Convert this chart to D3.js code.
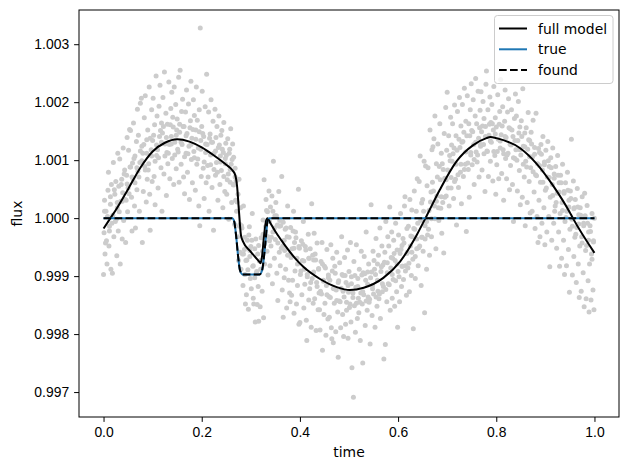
<!DOCTYPE html>
<html>
<head>
<meta charset="utf-8">
<script src="https://cdn.jsdelivr.net/npm/d3@7.9.0/dist/d3.min.js"></script>
<style>
  body { margin: 0; background: #fff; }
  svg { display: block; font-family: "DejaVu Sans", sans-serif; }
  .tick text { font-size: 13.9px; fill: #000; }
  .tick line, .domain { stroke: #000; }
</style>
</head>
<body>
<svg id="chart" width="630" height="470"></svg>
<script>
const obsPoints = [
  [0.000,0.99903],[0.001,0.99975],[0.002,1.00031],[0.003,0.99938],[0.005,1.00012],[0.006,0.99961],[0.007,0.99921],[0.009,1.00048],
  [0.010,1.00079],[0.011,0.99952],[0.012,0.99986],[0.014,1.00024],[0.015,0.99912],[0.016,1.00058],[0.018,0.99905],[0.019,1.00005],
  [0.020,1.00096],[0.021,0.99968],[0.023,1.00041],[0.024,0.99994],[0.025,1.00063],[0.027,0.99935],[0.028,1.00018],[0.029,1.00112],
  [0.030,0.99978],[0.031,1.00055],[0.033,1.00102],[0.034,0.99921],[0.035,1.00029],[0.037,1.00067],[0.038,0.99964],[0.039,1.00044],
  [0.040,1.00121],[0.041,0.99996],[0.043,1.00083],[0.044,1.00032],[0.045,0.99958],[0.047,1.00074],[0.048,1.00139],[0.049,1.00011],
  [0.050,1.00052],[0.051,1.00117],[0.053,1.00153],[0.054,1.00088],[0.055,1.00151],[0.057,1.00036],[0.058,0.99978],[0.059,1.00095],
  [0.060,1.00068],[0.061,1.00164],[0.063,1.00021],[0.064,1.00107],[0.065,0.99983],[0.067,1.00132],[0.068,1.00049],[0.069,1.00188],
  [0.070,1.00081],[0.071,1.00143],[0.073,1.00012],[0.074,1.00096],[0.075,1.00198],[0.077,1.00207],[0.078,1.00124],[0.079,0.99958],
  [0.080,1.00112],[0.081,1.00046],[0.083,1.00173],[0.084,1.00089],[0.085,1.00211],[0.087,1.00028],[0.088,1.00135],[0.089,1.00067],
  [0.090,1.00152],[0.091,1.00083],[0.093,1.00226],[0.094,1.00041],[0.095,0.99979],[0.097,1.00118],[0.098,1.00187],[0.099,1.00063],
  [0.100,1.00134],[0.101,1.00207],[0.103,1.00072],[0.104,1.00161],[0.105,1.00023],[0.107,1.00245],[0.108,1.00108],[0.109,1.00176],
  [0.110,1.00118],[0.111,1.00052],[0.113,1.00193],[0.114,1.00141],[0.115,1.00229],[0.117,1.00087],[0.118,1.00164],[0.119,1.00012],
  [0.120,1.00147],[0.121,1.00208],[0.123,1.00076],[0.124,1.00252],[0.125,1.00128],[0.127,1.00181],[0.128,1.00039],[0.129,1.00113],
  [0.130,1.00162],[0.131,1.00094],[0.133,1.00235],[0.134,1.00127],[0.135,1.00068],[0.137,1.00189],[0.138,1.00141],[0.139,1.00217],
  [0.140,1.00103],[0.141,1.00174],[0.143,1.00058],[0.144,1.00226],[0.145,1.00131],[0.147,1.00196],[0.148,1.00085],[0.149,1.00152],
  [0.150,1.00171],[0.151,1.00119],[0.153,1.00243],[0.154,1.00062],[0.155,1.00148],[0.156,1.00255],[0.158,1.00093],[0.159,1.00184],
  [0.160,1.00127],[0.161,1.00205],[0.163,1.00071],[0.164,1.00158],[0.165,1.00042],[0.167,1.00183],[0.168,1.00112],[0.169,1.00221],
  [0.170,1.00146],[0.171,1.00079],[0.173,1.00197],[0.174,1.00124],[0.175,1.00032],[0.177,1.00168],[0.178,1.00236],[0.179,1.00101],
  [0.180,1.00138],[0.181,1.00061],[0.183,1.00204],[0.184,1.00115],[0.185,1.00177],[0.187,1.00048],[0.188,1.00152],[0.189,1.00226],
  [0.190,1.00093],[0.191,1.00169],[0.193,1.00121],[0.194,1.00021],[0.195,1.00187],[0.196,0.99987],[0.197,1.00328],[0.198,1.00134],[0.199,1.00072],
  [0.200,1.00158],[0.201,1.00219],[0.203,1.00086],[0.204,1.00141],[0.205,1.00034],[0.207,1.00192],[0.208,1.00113],[0.209,1.00061],
  [0.210,1.00248],[0.211,1.00127],[0.213,1.00071],[0.214,1.00183],[0.215,1.00012],[0.217,1.00145],[0.218,1.00092],[0.219,1.00204],
  [0.220,1.00131],[0.221,1.00053],[0.223,1.00167],[0.224,0.99979],[0.225,1.00112],[0.227,1.00188],[0.228,1.00074],[0.229,1.00139],
  [0.230,1.00096],[0.231,1.00158],[0.233,1.00031],[0.234,1.00122],[0.235,1.00176],[0.237,1.00058],[0.238,1.00107],[0.239,1.00143],
  [0.240,1.00082],[0.241,1.00151],[0.243,1.00018],[0.244,1.00113],[0.245,1.00165],[0.247,1.00046],[0.248,1.00094],[0.249,1.00129],
  [0.250,1.00108],[0.251,1.00041],[0.253,1.00137],[0.254,1.00076],[0.255,0.99998],[0.257,1.00119],[0.258,1.00062],[0.259,1.00154],
  [0.260,1.00093],[0.261,1.00027],[0.263,1.00128],[0.264,1.00058],[0.265,1.00105],[0.267,0.99989],[0.268,1.00071],[0.269,1.00031],
  [0.270,1.00064],[0.271,1.00012],[0.273,0.99968],[0.274,1.00041],[0.275,0.99927],[0.277,0.99986],[0.278,0.99941],[0.279,1.00018],
  [0.280,0.99912],[0.281,0.99987],[0.283,0.99938],[0.284,0.99884],[0.285,1.00021],[0.287,0.99946],[0.288,0.99903],[0.289,0.99852],
  [0.290,0.99927],[0.291,0.99868],[0.293,0.99962],[0.294,0.99911],[0.295,0.99843],[0.297,0.99985],[0.298,0.99934],[0.299,0.99896],
  [0.300,0.99951],[0.301,0.99878],[0.303,1.00008],[0.304,0.99917],[0.305,0.99862],[0.306,0.99852],[0.308,0.99897],[0.309,0.99821],
  [0.310,0.99964],[0.311,0.99905],[0.313,0.99851],[0.314,0.99938],[0.315,0.99882],[0.316,0.99822],[0.318,0.99926],[0.319,0.99847],
  [0.320,0.99912],[0.321,0.99966],[0.323,0.99874],[0.324,0.99943],[0.325,0.99997],[0.326,0.99828],[0.327,1.00066],[0.328,0.99921],
  [0.330,0.99985],[0.331,1.00032],[0.333,0.99943],[0.334,1.00011],[0.335,0.99902],[0.337,1.00047],[0.338,0.99961],[0.339,0.99918],
  [0.340,1.00019],[0.341,0.99952],[0.343,1.00038],[0.344,0.99887],[0.345,0.99976],[0.346,1.00098],[0.348,0.99931],[0.349,1.00004],
  [0.350,0.99963],[0.351,1.00027],[0.353,0.99905],[0.354,0.99988],[0.355,0.99858],[0.357,1.00046],[0.358,0.99941],[0.359,0.99996],
  [0.360,0.99918],[0.361,0.99987],[0.363,1.00072],[0.364,0.99876],[0.365,0.99952],[0.366,0.99829],[0.368,0.99897],[0.369,0.99944],
  [0.370,0.99981],[0.371,0.99912],[0.373,0.99845],[0.374,0.99968],[0.375,1.00021],[0.377,0.99893],[0.378,0.99937],[0.379,0.99871],
  [0.380,0.99856],[0.381,0.99984],[0.383,0.99867],[0.384,0.99947],[0.385,0.99893],[0.387,1.00012],[0.388,0.99836],[0.389,0.99958],
  [0.390,0.99909],[0.391,0.99976],[0.393,0.99852],[0.394,0.99931],[0.395,0.99884],[0.397,1.00050],[0.398,0.99817],[0.399,0.99948],
  [0.400,0.99820],[0.401,0.99903],[0.403,0.99961],[0.404,0.99868],[0.405,0.99927],[0.407,0.99994],[0.408,0.99845],[0.409,0.99912],
  [0.410,0.99886],[0.411,0.99951],[0.413,0.99824],[0.414,0.99789],[0.415,0.99903],[0.417,0.99972],[0.418,0.99859],[0.419,0.99931],
  [0.420,0.99878],[0.421,0.99947],[0.423,0.99812],[0.424,1.00025],[0.425,0.99896],[0.427,0.99853],[0.428,0.99928],[0.429,0.99974],
  [0.430,0.99861],[0.431,0.99938],[0.433,0.99806],[0.434,0.99889],[0.435,0.99957],[0.437,0.99842],[0.438,0.99913],[0.439,0.99871],
  [0.440,0.99842],[0.441,0.99807],[0.443,0.99925],[0.444,0.99869],[0.445,0.99958],[0.446,0.99772],[0.448,0.99891],[0.449,0.99834],
  [0.450,0.99917],[0.451,0.99853],[0.453,0.99798],[0.454,0.99884],[0.455,0.99946],[0.457,0.99826],[0.458,0.99902],[0.459,0.99865],
  [0.460,0.99829],[0.461,0.99893],[0.463,0.99954],[0.464,0.99811],[0.465,0.99792],[0.467,0.99931],[0.468,0.99785],[0.469,0.99878],
  [0.470,0.99853],[0.471,0.99917],[0.473,0.99804],[0.474,0.99876],[0.475,0.99941],[0.477,0.99838],[0.478,0.99760],[0.479,0.99892],
  [0.480,0.99857],[0.481,0.99923],[0.483,0.99811],[0.484,0.99879],[0.485,0.99968],[0.487,0.99834],[0.488,0.99901],[0.489,0.99796],
  [0.490,0.99864],[0.491,0.99932],[0.493,0.99817],[0.494,0.99889],[0.495,0.99841],[0.497,0.99945],[0.498,0.99793],[0.499,0.99872],
  [0.500,0.99908],[0.501,0.99846],[0.503,0.99958],[0.504,0.99821],[0.505,0.99887],[0.506,0.99742],[0.508,0.99863],[0.509,0.99691],
  [0.510,0.99925],[0.511,0.99849],[0.513,0.99803],[0.514,0.99881],[0.515,0.99954],[0.517,0.99827],[0.518,0.99896],[0.519,0.99862],
  [0.520,0.99837],[0.521,0.99912],[0.523,0.99789],[0.524,0.99871],[0.525,0.99943],[0.527,0.99852],[0.528,0.99750],[0.529,0.99906],
  [0.530,0.99868],[0.531,0.99934],[0.533,0.99815],[0.534,0.99893],[0.535,0.99976],[0.537,0.99841],[0.538,0.99907],[0.539,0.99864],
  [0.540,0.99921],[0.541,0.99855],[0.543,0.99783],[0.544,0.99897],[0.545,1.00023],[0.547,0.99832],[0.548,0.99884],[0.549,0.99943],
  [0.550,0.99869],[0.551,0.99927],[0.553,0.99812],[0.554,0.99903],[0.555,0.99965],[0.557,0.99848],[0.558,0.99921],[0.559,0.99874],
  [0.560,0.99936],[0.561,0.99861],[0.563,0.99983],[0.564,0.99827],[0.565,0.99908],[0.567,0.99952],[0.568,0.99873],[0.569,0.99919],
  [0.570,0.99882],[0.571,0.99757],[0.573,0.99941],[0.574,0.99782],[0.575,0.99994],[0.577,0.99856],[0.578,0.99923],[0.579,0.99968],
  [0.580,0.99887],[0.581,0.99952],[0.583,1.00019],[0.584,0.99841],[0.585,0.99914],[0.587,0.99976],[0.588,0.99862],[0.589,0.99931],
  [0.590,0.99894],[0.591,0.99962],[0.593,0.99848],[0.594,0.99927],[0.595,0.99991],[0.597,0.99873],[0.598,0.99945],[0.599,0.99812],
  [0.600,0.99908],[0.601,0.99971],[0.603,0.99856],[0.604,0.99939],[0.605,1.00008],[0.607,0.99882],[0.608,0.99953],[0.609,0.99917],
  [0.610,0.99965],[0.611,0.99894],[0.613,1.00021],[0.614,1.00037],[0.615,0.99918],[0.617,0.99867],[0.618,0.99982],[0.619,0.99941],
  [0.620,0.99914],[0.621,0.99986],[0.623,0.99873],[0.624,1.00032],[0.625,0.99952],[0.627,0.99901],[0.628,1.00014],[0.629,0.99968],
  [0.630,0.99929],[0.631,0.99809],[0.633,1.00047],[0.634,0.99981],[0.635,0.99896],[0.637,1.00012],[0.638,0.99947],[0.639,1.00068],
  [0.640,0.99991],[0.641,0.99918],[0.643,1.00063],[0.644,0.99952],[0.645,1.00107],[0.647,0.99884],[0.648,1.00026],[0.649,0.99967],
  [0.650,1.00032],[0.651,0.99943],[0.653,1.00098],[0.654,0.99837],[0.655,0.99987],[0.656,1.00090],[0.658,0.99912],[0.659,1.00056],
  [0.660,0.99971],[0.661,1.00087],[0.663,1.00013],[0.664,0.99936],[0.665,1.00152],[0.667,1.00045],[0.668,0.99968],[0.669,1.00118],
  [0.670,1.00062],[0.671,1.00123],[0.673,1.00137],[0.674,1.00021],[0.675,1.00176],[0.677,0.99947],[0.678,1.00094],[0.679,1.00038],
  [0.680,1.00071],[0.681,1.00128],[0.683,0.99996],[0.684,1.00089],[0.685,1.00163],[0.687,1.00017],[0.688,1.00112],[0.689,0.99974],
  [0.690,1.00094],[0.691,1.00027],[0.693,0.99940],[0.694,1.00146],[0.695,1.00069],[0.697,1.00191],[0.698,1.00038],[0.699,1.00117],
  [0.700,1.00217],[0.701,1.00083],[0.703,1.00142],[0.704,1.00021],[0.705,1.00108],[0.707,1.00174],[0.708,1.00052],[0.709,1.00126],
  [0.710,1.00098],[0.711,1.00163],[0.713,1.00034],[0.714,1.00121],[0.715,1.00195],[0.717,1.00067],[0.718,1.00142],[0.719,0.99988],
  [0.720,1.00117],[0.721,1.00184],[0.723,1.00053],[0.724,1.00136],[0.725,1.00208],[0.727,1.00079],[0.728,1.00159],[0.729,1.00025],
  [0.730,1.00131],[0.731,1.00196],[0.733,1.00072],[0.734,1.00148],[0.735,1.00224],[0.737,1.00093],[0.738,1.00167],[0.739,0.99977],
  [0.740,1.00142],[0.741,1.00211],[0.743,1.00084],[0.744,1.00163],[0.745,1.00036],[0.747,1.00187],[0.748,1.00109],[0.749,1.00232],
  [0.750,1.00151],[0.751,1.00092],[0.753,1.00204],[0.754,1.00127],[0.755,1.00058],[0.757,1.00176],[0.758,1.00241],[0.759,1.00114],
  [0.760,1.00163],[0.761,1.00097],[0.763,1.00219],[0.764,1.00138],[0.765,1.00071],[0.767,1.00186],[0.768,1.00124],[0.769,1.00218],
  [0.770,1.00149],[0.771,1.00083],[0.773,1.00201],[0.774,1.00127],[0.775,1.00172],[0.777,1.00046],[0.778,1.00158],[0.779,1.00231],
  [0.780,1.00254],[0.781,1.00116],[0.783,1.00187],[0.784,1.00072],[0.785,1.00143],[0.787,1.00209],[0.788,1.00098],[0.789,1.00165],
  [0.790,1.00131],[0.791,1.00196],[0.793,1.00064],[0.794,1.00152],[0.795,1.00227],[0.797,1.00108],[0.798,1.00173],[0.799,1.00041],
  [0.800,1.00157],[0.801,1.00092],[0.803,1.00213],[0.804,1.00136],[0.805,1.00068],[0.807,1.00184],[0.808,1.00121],[0.809,1.00239],
  [0.810,1.00144],[0.811,1.00077],[0.813,1.00192],[0.814,1.00118],[0.815,1.00031],[0.817,1.00167],[0.818,1.00221],[0.819,1.00103],
  [0.820,1.00139],[0.821,1.00068],[0.823,1.00183],[0.824,1.00112],[0.825,1.00206],[0.827,1.00049],[0.828,1.00154],[0.829,1.00091],
  [0.830,1.00126],[0.831,1.00187],[0.833,1.00058],[0.834,1.00141],[0.835,0.99994],[0.837,1.00172],[0.838,1.00103],[0.839,1.00214],
  [0.840,1.00118],[0.841,1.00176],[0.843,1.00047],[0.844,1.00134],[0.845,1.00201],[0.847,1.00082],[0.848,1.00157],[0.849,1.00023],
  [0.850,1.00109],[0.851,1.00168],[0.853,1.00036],[0.854,1.00223],[0.855,1.00124],[0.857,1.00071],[0.858,1.00147],[0.859,0.99987],
  [0.860,1.00098],[0.861,1.00156],[0.863,1.00027],[0.864,1.00119],[0.865,1.00182],[0.867,1.00063],[0.868,1.00134],[0.869,1.00009],
  [0.870,1.00087],[0.871,1.00148],[0.873,1.00012],[0.874,1.00106],[0.875,1.00169],[0.877,1.00045],[0.878,1.00122],[0.879,0.99982],
  [0.880,1.00075],[0.881,1.00181],[0.883,1.00003],[0.884,1.00094],[0.885,0.99958],[0.887,1.00031],[0.888,1.00113],[0.889,0.99968],
  [0.890,1.00062],[0.891,1.00127],[0.893,0.99991],[0.894,1.00083],[0.895,1.00141],[0.897,1.00018],[0.898,1.00097],[0.899,0.99954],
  [0.900,1.00048],[0.901,1.00117],[0.903,0.99976],[0.904,1.00071],[0.905,1.00132],[0.907,1.00003],[0.908,1.00089],[0.909,0.99916],
  [0.910,1.00036],[0.911,1.00104],[0.913,0.99962],[0.914,1.00058],[0.915,1.00121],[0.917,0.99991],[0.918,1.00076],[0.919,1.00012],
  [0.920,1.00021],[0.921,1.00089],[0.923,0.99948],[0.924,1.00043],[0.925,1.00108],[0.927,0.99976],[0.928,1.00061],[0.929,0.99917],
  [0.930,1.00008],[0.931,1.00074],[0.933,0.99931],[0.934,1.00027],[0.935,1.00093],[0.937,0.99962],[0.938,1.00046],[0.939,0.99903],
  [0.940,0.99994],[0.941,1.00061],[0.943,0.99918],[0.944,1.00012],[0.945,1.00079],[0.947,0.99946],[0.948,1.00031],[0.949,0.99872],
  [0.950,0.99981],[0.951,1.00047],[0.953,1.00136],[0.954,0.99998],[0.955,0.99902],[0.957,1.00064],[0.958,0.99934],[0.959,1.00018],
  [0.960,0.99967],[0.961,1.00032],[0.963,0.99889],[0.964,0.99984],[0.965,1.00051],[0.967,0.99921],[0.968,1.00006],[0.969,0.99863],
  [0.970,0.99952],[0.971,1.00018],[0.973,0.99874],[0.974,0.99968],[0.975,1.00037],[0.977,0.99906],[0.978,0.99991],[0.979,0.99847],
  [0.980,1.00043],[0.981,1.00004],[0.983,0.99861],[0.984,0.99953],[0.985,1.00022],[0.987,0.99892],[0.988,0.99976],[0.989,0.99838],
  [0.990,0.99921],[0.991,0.99987],[0.993,0.99859],[0.994,0.99938],[0.995,1.00008],[0.997,0.99876],[0.998,0.99961],[0.999,0.99842],[1.000,1.00000]
];

// extra points in the dense core of the band
const corePoints = [
  [0.002,1.00012],[0.004,0.99957],[0.008,1.00003],[0.012,0.99978],[0.014,1.00037],[0.017,0.99991],[0.022,1.00049],[0.026,0.99998],[0.028,1.00027],
  [0.032,1.00011],[0.036,1.00058],[0.038,1.00029],[0.042,1.00076],[0.046,1.00031],[0.048,1.00059],[0.052,1.00042],[0.055,1.00088],[0.058,1.00071],
  [0.062,1.00103],[0.064,1.00061],[0.068,1.00087],[0.072,1.00071],[0.075,1.00116],[0.078,1.00099],[0.082,1.00127],[0.085,1.00083],[0.088,1.00112],
  [0.092,1.00094],[0.095,1.00138],[0.098,1.00107],[0.102,1.00143],[0.105,1.00098],[0.108,1.00126],[0.112,1.00104],[0.116,1.00151],[0.118,1.00131],
  [0.122,1.00158],[0.125,1.00107],[0.128,1.00139],[0.132,1.00112],[0.136,1.00161],[0.138,1.00128],[0.142,1.00157],[0.145,1.00109],[0.148,1.00143],
  [0.152,1.00114],[0.155,1.00162],[0.158,1.00131],[0.162,1.00158],[0.165,1.00106],[0.168,1.00142],[0.172,1.00111],[0.176,1.00156],[0.178,1.00127],
  [0.182,1.00153],[0.185,1.00104],[0.188,1.00136],[0.192,1.00102],[0.195,1.00149],[0.198,1.00119],[0.202,1.00146],[0.205,1.00097],[0.208,1.00128],
  [0.212,1.00091],[0.216,1.00138],[0.218,1.00109],[0.222,1.00131],[0.225,1.00084],[0.228,1.00116],[0.232,1.00079],[0.236,1.00126],[0.238,1.00097],
  [0.242,1.00119],[0.245,1.00072],[0.248,1.00103],[0.252,1.00066],[0.256,1.00112],[0.258,1.00084],[0.262,1.00101],[0.265,1.00057],[0.268,1.00086],
  [0.272,1.00028],[0.276,1.00067],[0.278,0.99989],[0.282,0.99983],[0.285,0.99938],[0.288,0.99967],[0.292,0.99928],[0.296,0.99971],[0.298,0.99944],
  [0.302,0.99962],[0.305,0.99918],[0.308,0.99947],[0.312,0.99908],[0.316,0.99953],[0.318,0.99926],[0.322,0.99927],[0.325,0.99972],[0.328,0.99956],
  [0.332,1.00013],[0.335,0.99968],[0.338,0.99994],[0.342,0.99967],[0.345,1.00012],[0.348,0.99983],[0.352,1.00004],[0.355,0.99957],[0.358,0.99986],
  [0.362,0.99948],[0.366,0.99993],[0.368,0.99962],[0.372,0.99983],[0.375,0.99936],[0.378,0.99967],[0.382,0.99932],[0.386,0.99978],[0.388,0.99948],
  [0.392,0.99966],[0.395,0.99921],[0.398,0.99951],[0.402,0.99909],[0.406,0.99955],[0.408,0.99926],[0.412,0.99945],[0.415,0.99899],[0.418,0.99931],
  [0.422,0.99889],[0.426,0.99936],[0.428,0.99907],[0.432,0.99928],[0.435,0.99882],[0.438,0.99912],[0.442,0.99874],[0.446,0.99921],[0.448,0.99893],
  [0.452,0.99914],[0.455,0.99868],[0.458,0.99897],[0.462,0.99863],[0.466,0.99909],[0.468,0.99879],[0.472,0.99905],[0.475,0.99858],[0.478,0.99889],
  [0.482,0.99856],[0.486,0.99903],[0.488,0.99874],[0.492,0.99901],[0.495,0.99855],[0.498,0.99884],[0.502,0.99852],[0.505,0.99899],[0.508,0.99871],
  [0.512,0.99901],[0.515,0.99853],[0.518,0.99882],[0.522,0.99855],[0.526,0.99902],[0.528,0.99873],[0.532,0.99904],[0.535,0.99857],[0.538,0.99886],
  [0.542,0.99860],[0.546,0.99907],[0.548,0.99878],[0.552,0.99912],[0.555,0.99864],[0.558,0.99893],[0.562,0.99869],[0.566,0.99916],[0.568,0.99887],
  [0.572,0.99924],[0.575,0.99877],[0.578,0.99906],[0.582,0.99885],[0.586,0.99932],[0.588,0.99903],[0.592,0.99939],[0.595,0.99892],[0.598,0.99921],
  [0.602,0.99899],[0.606,0.99946],[0.608,0.99917],[0.612,0.99957],[0.615,0.99909],[0.618,0.99939],[0.622,0.99922],[0.626,0.99969],[0.628,0.99941],
  [0.632,0.99982],[0.635,0.99934],[0.638,0.99964],[0.642,0.99949],[0.646,0.99996],[0.648,0.99967],[0.652,1.00012],[0.655,0.99964],[0.658,0.99994],
  [0.662,0.99981],[0.666,1.00028],[0.668,0.99999],[0.672,1.00047],[0.675,0.99999],[0.678,1.00029],[0.682,1.00018],[0.686,1.00066],[0.688,1.00037],
  [0.692,1.00084],[0.695,1.00036],[0.698,1.00066],[0.702,1.00052],[0.706,1.00099],[0.708,1.00070],[0.712,1.00111],[0.715,1.00063],[0.718,1.00093],
  [0.722,1.00075],[0.726,1.00122],[0.728,1.00093],[0.732,1.00132],[0.735,1.00084],[0.738,1.00114],[0.742,1.00095],[0.746,1.00142],[0.748,1.00113],
  [0.752,1.00149],[0.755,1.00101],[0.758,1.00131],[0.762,1.00109],[0.766,1.00156],[0.768,1.00127],[0.772,1.00159],[0.775,1.00111],[0.778,1.00141],
  [0.782,1.00115],[0.786,1.00162],[0.788,1.00133],[0.792,1.00163],[0.795,1.00115],[0.798,1.00145],[0.802,1.00115],[0.806,1.00162],[0.808,1.00133],
  [0.812,1.00159],[0.815,1.00111],[0.818,1.00141],[0.822,1.00109],[0.826,1.00156],[0.828,1.00127],[0.832,1.00152],[0.835,1.00104],[0.838,1.00134],
  [0.842,1.00100],[0.846,1.00147],[0.848,1.00118],[0.852,1.00141],[0.855,1.00093],[0.858,1.00123],[0.862,1.00088],[0.866,1.00135],[0.868,1.00106],
  [0.872,1.00128],[0.875,1.00080],[0.878,1.00110],[0.882,1.00073],[0.886,1.00120],[0.888,1.00091],[0.892,1.00110],[0.895,1.00062],[0.898,1.00092],
  [0.902,1.00052],[0.906,1.00099],[0.908,1.00070],[0.912,1.00087],[0.915,1.00039],[0.918,1.00069],[0.922,1.00027],[0.926,1.00074],[0.928,1.00045],
  [0.932,1.00061],[0.935,1.00013],[0.938,1.00043],[0.942,1.00001],[0.946,1.00048],[0.948,1.00019],[0.952,1.00034],[0.955,0.99986],[0.958,1.00016],
  [0.962,0.99972],[0.966,1.00019],[0.968,0.99990],[0.972,1.00005],[0.975,0.99957],[0.978,0.99987],[0.982,0.99944],[0.986,0.99991],[0.988,0.99962],
  [0.992,0.99977],[0.995,0.99929],[0.998,0.99959]
];

// full model curve (black)
const modelTime = [0.000,0.014,0.025,0.050,0.075,0.100,0.125,0.150,0.175,0.200,0.225,0.250,0.262,0.268,0.272,0.276,0.280,0.284,
  0.300,0.319,0.320,0.323,0.327,0.331,0.334,0.340,0.350,0.362,0.373,0.390,0.407,0.441,0.475,0.502,0.530,0.570,0.604,0.638,0.657,0.685,0.719,
  0.753,0.780,0.788,0.800,0.848,0.881,0.915,0.949,0.956,1.000];
const modelFlux = [0.99982,1.00000,1.00014,1.00050,1.00087,1.00115,1.00130,1.00136,1.00132,1.00122,1.00108,1.00092,1.00083,1.00075,1.00055,1.00010,0.99970,0.99960,
  0.99942,0.99923,0.99922,0.99935,0.99970,0.99995,1.00000,0.99991,0.99977,0.99962,0.99949,0.99931,0.99916,0.99895,0.99881,0.99876,0.99880,0.99897,0.99925,0.99971,1.00002,1.00049,1.00098,
  1.00126,1.00138,1.00140,1.00138,1.00121,1.00095,1.00057,1.00011,1.00000,0.99940];

// transit model, true and found overlap
const transitTime = [0.000,0.262,0.266,0.270,0.274,0.278,0.283,0.318,0.323,0.327,0.331,0.334,0.338,1.000];
const transitFlux = [1.00000,1.00000,0.99995,0.99970,0.99935,0.99910,0.99903,0.99903,0.99910,0.99935,0.99970,0.99995,1.00000,1.00000];

const xTicks = [0, 0.2, 0.4, 0.6, 0.8, 1.0];
const yTicks = [0.997, 0.998, 0.999, 1.000, 1.001, 1.002, 1.003];
const legendItems = [
  { label: "full model", color: "#000", dash: null },
  { label: "true", color: "#1f77b4", dash: null },
  { label: "found", color: "#000", dash: "7.7,3.3" }
];

const svg = d3.select("#chart");
const plotLeft = 79, plotRight = 619, plotTop = 10, plotBottom = 417;

const x = d3.scaleLinear().domain([-0.05, 1.05]).range([plotLeft, plotRight]);
const y = d3.scaleLinear().domain([0.99657, 1.00359]).range([plotBottom, plotTop]);

const plot = svg.append("g");

plot.selectAll("circle")
  .data(obsPoints.concat(corePoints))
  .enter()
  .append("circle")
  .attr("cx", d => x(d[0]))
  .attr("cy", d => y(d[1]))
  .attr("r", 2.5)
  .attr("fill", "#cccccc");

const line = d3.line().x(d => x(d[0])).y(d => y(d[1])).curve(d3.curveMonotoneX);
const modelData = modelTime.map((t, i) => [t, modelFlux[i]]);
const transitData = transitTime.map((t, i) => [t, transitFlux[i]]);

plot.append("path").datum(modelData)
  .attr("d", line).attr("fill", "none").attr("stroke", "#000").attr("stroke-width", 2);
plot.append("path").datum(transitData)
  .attr("d", line).attr("fill", "none").attr("stroke", "#1f77b4").attr("stroke-width", 2);
plot.append("path").datum(transitData)
  .attr("d", line).attr("fill", "none").attr("stroke", "#000").attr("stroke-width", 2)
  .attr("stroke-dasharray", "7.7,3.3");

// axes
svg.append("g")
  .attr("transform", `translate(0,${plotBottom})`)
  .call(d3.axisBottom(x).tickValues(xTicks).tickFormat(d3.format(".1f")).tickSize(4.9).tickPadding(5))
  .call(g => g.select(".domain").remove());
svg.append("g")
  .attr("transform", `translate(${plotLeft},0)`)
  .call(d3.axisLeft(y).tickValues(yTicks).tickFormat(d3.format(".3f")).tickSize(4.9).tickPadding(5))
  .call(g => g.select(".domain").remove());
svg.selectAll(".tick line").attr("stroke-width", 1);

svg.append("rect")
  .attr("x", plotLeft).attr("y", plotTop)
  .attr("width", plotRight - plotLeft).attr("height", plotBottom - plotTop)
  .attr("fill", "none").attr("stroke", "#000").attr("stroke-width", 1);

svg.append("text")
  .attr("x", (plotLeft + plotRight) / 2).attr("y", 457)
  .attr("text-anchor", "middle").attr("font-size", 13.9)
  .text("time");
svg.append("text")
  .attr("transform", `translate(22,${(plotTop + plotBottom) / 2}) rotate(-90)`)
  .attr("text-anchor", "middle").attr("font-size", 13.9)
  .text("flux");

// legend
const legend = svg.append("g");
legend.append("rect")
  .attr("x", 494.5).attr("y", 15.5).attr("width", 118.5).attr("height", 68)
  .attr("rx", 3).attr("fill", "#fff").attr("fill-opacity", 0.8)
  .attr("stroke", "#cccccc").attr("stroke-width", 1);

const rows = legend.selectAll("g.item")
  .data(legendItems)
  .enter()
  .append("g")
  .attr("transform", (d, i) => `translate(0,${28.5 + i * 20.8})`);
rows.append("line")
  .attr("x1", 499).attr("x2", 527)
  .attr("stroke", d => d.color).attr("stroke-width", 2)
  .attr("stroke-dasharray", d => d.dash);
rows.append("text")
  .attr("x", 538).attr("y", 5)
  .attr("font-size", 13.9)
  .text(d => d.label);
</script>
</body>
</html>
